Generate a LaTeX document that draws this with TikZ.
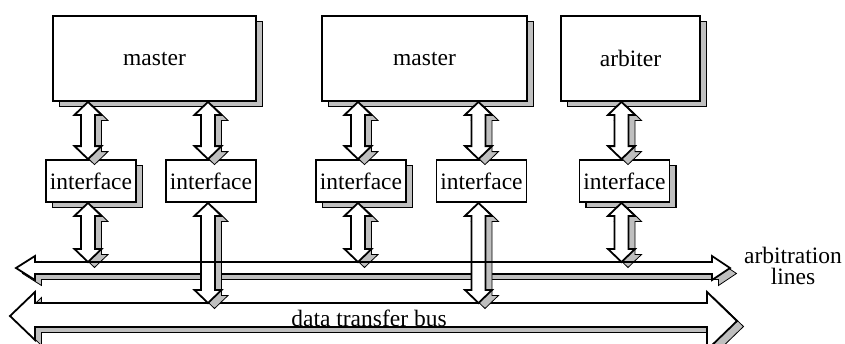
\documentclass[tikz,border=0pt]{standalone}
\usepackage{fontspec}
\setmainfont{Liberation Serif}
\usetikzlibrary{calc}

\definecolor{shade}{gray}{0.75}

\tikzset{
  wire/.style={line width=0.9pt, fill=white},
  shadowed/.style={preaction={draw=black, fill=shade,
      transform canvas={shift={(3.25pt,-2.75pt)}}}},
  unit/.style={draw, wire, inner sep=0pt},
  big/.style={unit, minimum width=101.5pt, minimum height=42.5pt},
  iface/.style={unit, minimum width=45pt, minimum height=21pt}
}

% double headed hollow arrow, #1 above #2
\newcommand\buslink[2]{%
  \draw[shadowed, wire] let \p1=(#1), \p2=(#2) in
    (\x1,\y1) -- (\x1+6.75pt,\y1-6.5pt) -- (\x1+3.5pt,\y1-6.5pt)
    -- (\x1+3.5pt,\y2+6.5pt) -- (\x1+6.75pt,\y2+6.5pt) -- (\x1,\y2)
    -- (\x1-6.75pt,\y2+6.5pt) -- (\x1-3.5pt,\y2+6.5pt)
    -- (\x1-3.5pt,\y1-6.5pt) -- (\x1-6.75pt,\y1-6.5pt) -- cycle;
}

\begin{document}
\begin{tikzpicture}[x=0.5pt, y=-0.5pt,
    every node/.style={font=\fontsize{11.75pt}{14pt}\selectfont}]
  \useasboundingbox (0,0) rectangle (845,343);

  \node[big, shadowed] (m1) at (154.5,58.5) {master};
  \node[big, shadowed, minimum width=102.5pt] (m2) at (424.5,58.5) {master};
  \node[big, shadowed, minimum width=69.5pt] (arb) at (630.5,58.5) {arbiter};

  \node[iface, shadowed] (if1) at (91,181) {interface};
  \node[iface] (if2) at (211,181) {interface};
  \node[iface, shadowed] (if3) at (361,181) {interface};
  \node[iface] (if4) at (481.5,181) {interface};
  \node[iface, shadowed] (if5) at (624.5,181) {interface};

  % the two buses
  \draw[shadowed, wire] (16,268) -- (35,256) -- (35,262) -- (712,262)
    -- (712,256) -- (730,268) -- (712,280) -- (712,274) -- (35,274)
    -- (35,280) -- cycle;
  \draw[shadowed, wire] (10,316) -- (35,292) -- (35,303) -- (707,303)
    -- (707,292) -- (737,321) -- (707,350) -- (707,327) -- (35,327)
    -- (35,340) -- cycle;
  \coordinate (arbline) at (0,262);
  \coordinate (dataline) at (0,303);

  \foreach \up/\i/\bus in {m1/1/arbline, m1/2/dataline, m2/3/arbline,
                           m2/4/dataline, arb/5/arbline} {
    \coordinate (p\i) at ($(if\i.north)+(-3,0)$);
    \buslink{\up.south -| p\i}{if\i.north -| p\i}
    \buslink{if\i.south -| p\i}{\bus -| p\i}
  }
  \draw[line width=0.9pt] (35,262) -- (712,262);

  \node (datalbl) at (369,318) {data transfer bus};
  \node[align=center, font=\fontsize{11.75pt}{10.5pt}\selectfont]
    (arblbl) at (793,266) {arbitration\\lines};
\end{tikzpicture}
\end{document}
